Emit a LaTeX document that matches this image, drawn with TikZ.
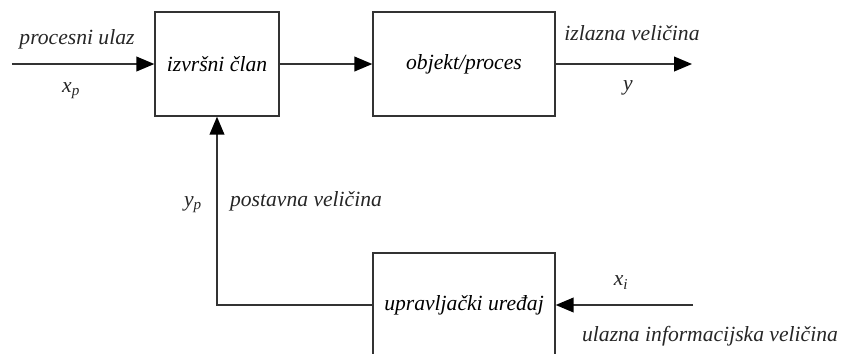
\documentclass[tikz,border=0pt]{standalone}
\usepackage{fontspec}
\setmainfont{Liberation Serif}
\usetikzlibrary{shapes, arrows.meta}
\tikzstyle{block} = [rectangle, draw=black!80, line width=1.3pt, text centered, inner sep=0pt, minimum height=3.467cm]
\tikzstyle{signal} = [text=black!85, inner sep=0pt]
\tikzstyle{connector} = [draw=black!80, line width=1.3pt, -{Triangle[length=17pt,width=14pt,color=black]}]

\begin{document}
\begin{tikzpicture}[font=\fontsize{20.5}{24}\selectfont\itshape]

\useasboundingbox (0,0) rectangle (28.067,11.767);

\node[block, minimum width=4.133cm] at (7.233,9.633) (actuator) {izvršni član};
\node[block, minimum width=6.067cm] at (15.467,9.633) (plant) {objekt/proces};
\node[block, minimum width=6.067cm] at (15.467,1.6) (controller) {upravljački uređaj};

\coordinate (processIn) at (0.4,9.633);
\coordinate (plantOut) at (23.067,9.633);
\coordinate (infoIn) at (23.1,1.6);

\node[signal] at (2.567,10.45) (processInText) {procesni ulaz};
\node[signal] at (2.367,8.75) (processInSym) {x\textsubscript{p}};
\node[signal] at (21.067,10.65) (plantOutText) {izlazna veličina};
\node[signal] at (20.933,8.85) (plantOutSym) {y};
\node[signal] at (6.433,4.95) (setSym) {y\textsubscript{p}};
\node[signal] at (10.2,5.07) (setText) {postavna veličina};
\node[signal] at (20.7,2.35) (infoSym) {x\textsubscript{i}};
\node[signal] at (23.667,0.57) (infoText) {ulazna informacijska veličina};

\path [connector] (processIn) -- (actuator);
\path [connector] (actuator) -- (plant);
\path [connector] (plant) -- (plantOut);
\path [connector] (infoIn) -- (controller);
\path [connector] (controller.west) -| (actuator.south);

\end{tikzpicture}
\end{document}
